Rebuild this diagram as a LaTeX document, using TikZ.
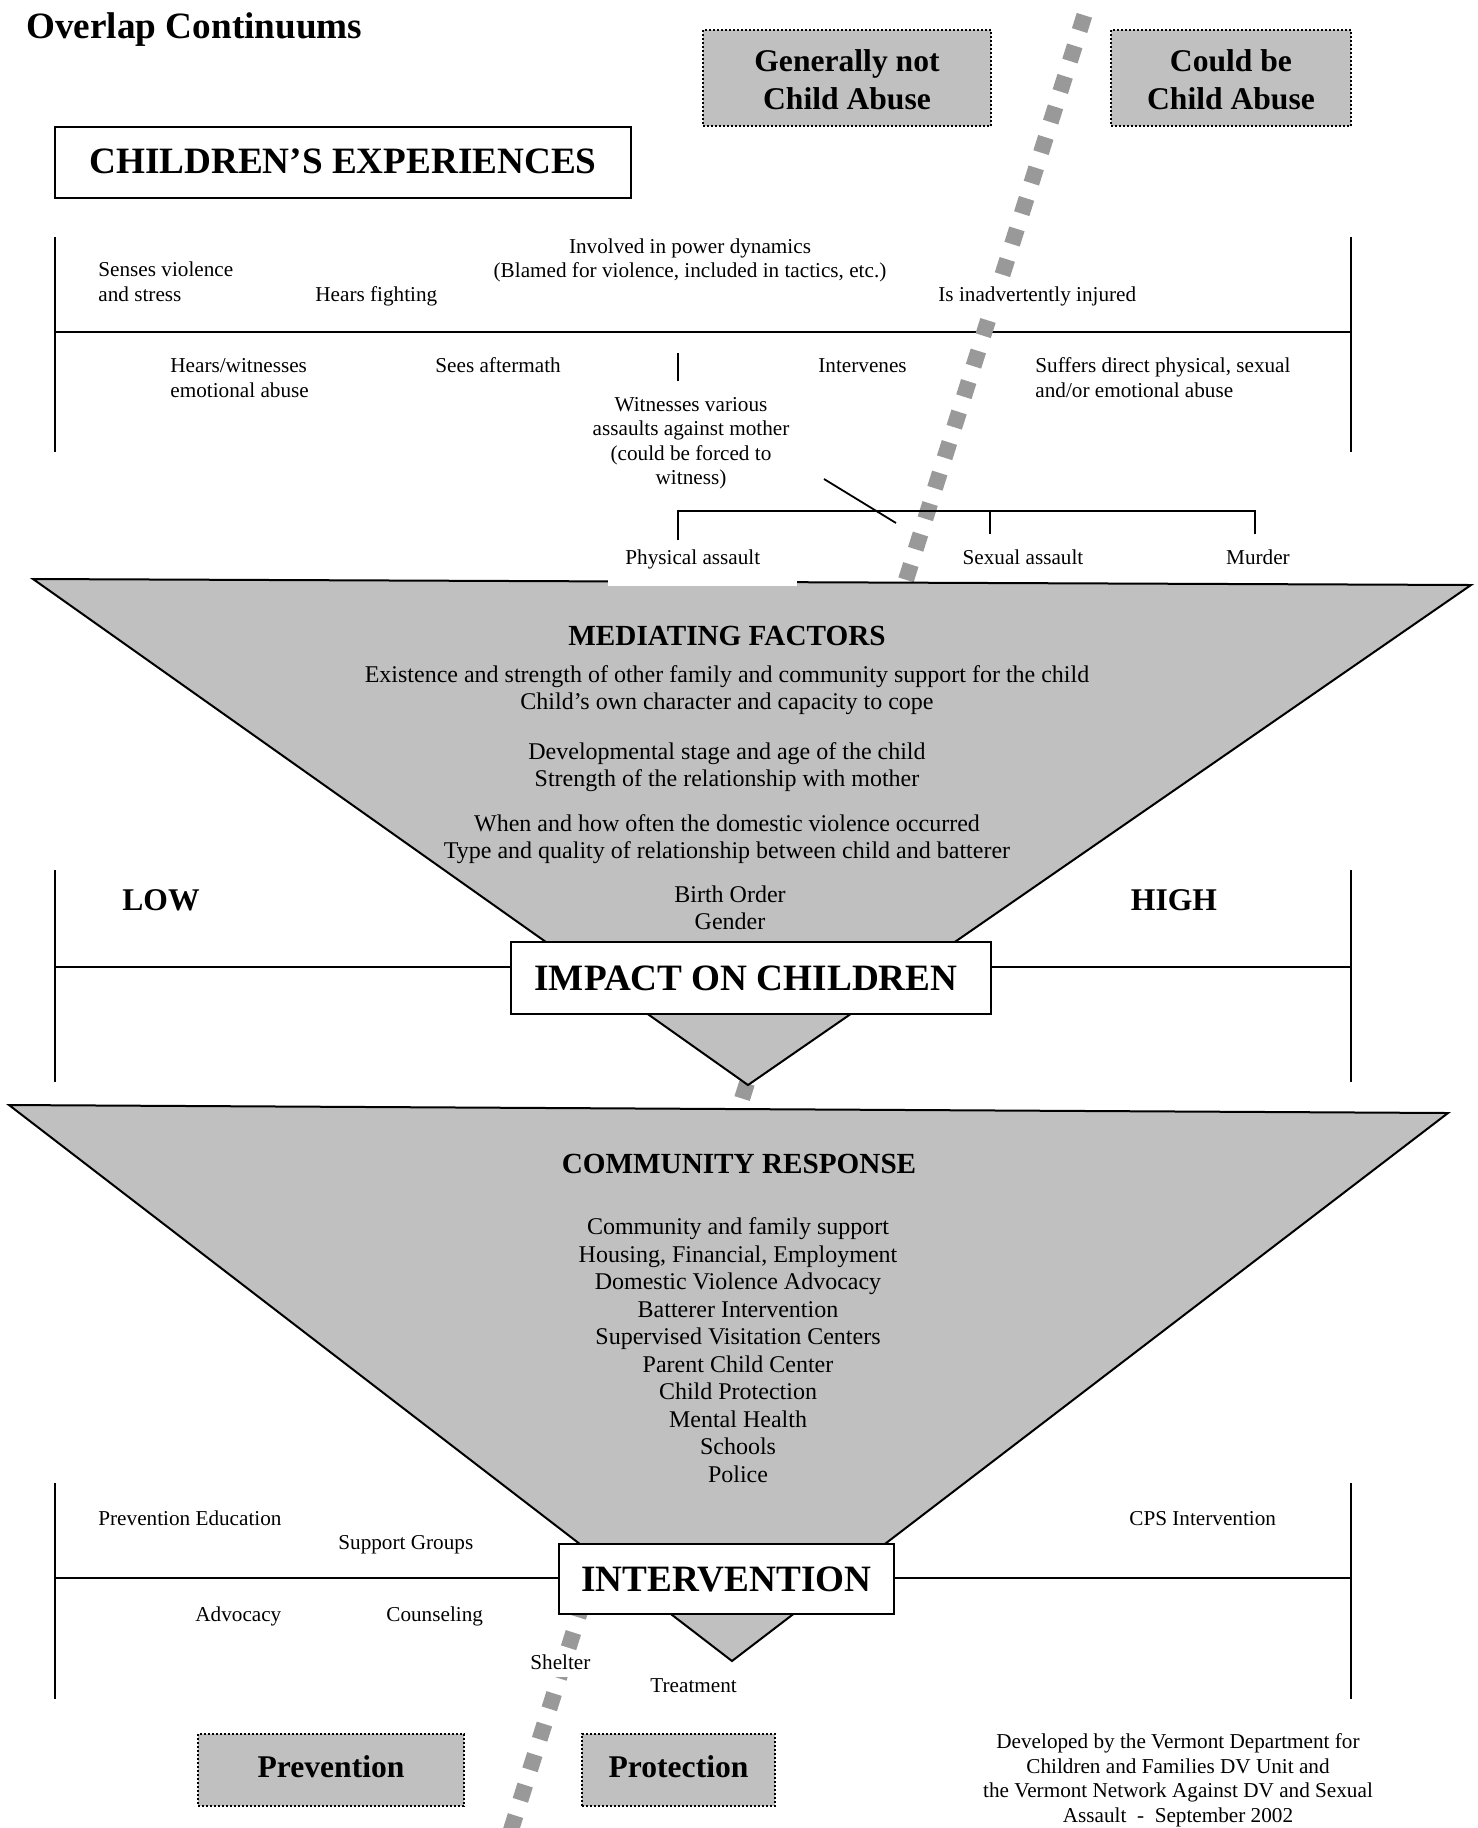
\documentclass[tikz,border=0pt]{standalone}
\usepackage{fontspec}
\setmainfont{Liberation Serif}
\definecolor{boxgray}{HTML}{C0C0C0}
\definecolor{dashgray}{HTML}{999999}
\newcommand{\boxlift}{\rule{0pt}{18.2pt}}
\begin{document}
\begin{tikzpicture}[x=0.5pt,y=-0.5pt,
  txt/.style={inner sep=0pt, execute at begin node=\strut, execute at end node=\strut},
  small/.style={txt, font=\fontsize{10.6}{12.6}\selectfont, yshift=-1.2pt},
  med/.style={txt, font=\fontsize{12}{13.5}\selectfont, yshift=-2.3pt},
  hdr/.style={txt, font=\fontsize{14.6}{17}\selectfont\bfseries, yshift=-2.3pt},
  lbl/.style={txt, font=\fontsize{15.8}{18.7}\selectfont\bfseries},
  big/.style={txt, font=\fontsize{18.6}{22}\selectfont\bfseries},
  multi/.style={yshift=-1.1pt},
  raise/.style={execute at begin node={\rule{0pt}{#1}}},
  cline/.style={line width=1.1pt},
  thinline/.style={line width=0.9pt},
  dotbox/.style={draw, fill=boxgray, line width=1pt, dash pattern=on 1pt off 1pt},
  solidbox/.style={draw, fill=white, line width=1.1pt},
  funnel/.style={draw, fill=boxgray, line width=1pt, line join=miter},
  divider/.style={draw=dashgray, line width=8pt, dash pattern=on 8pt off 8pt}
]
\fill[white] (0,0) rectangle (1478,1828);
\useasboundingbox (0,0) rectangle (1478,1828);

% ---------- top continuum lines ----------
\coordinate (tl1) at (55,237);  \coordinate (tl2) at (55,452);
\coordinate (tr1) at (1351,237); \coordinate (tr2) at (1351,452);
\coordinate (tm1) at (55,332);  \coordinate (tm2) at (1351,332);
\draw[cline] (tl1) -- (tl2);
\draw[cline] (tr1) -- (tr2);
\draw[cline] (tm1) -- (tm2);
\coordinate (tick1) at (678,353); \coordinate (tick2) at (678,381);
\draw[thinline] (tick1) -- (tick2);
\coordinate (diag1) at (824,479); \coordinate (diag2) at (896,523);
\draw[thinline] (diag1) -- (diag2);
\coordinate (br0) at (678,540); \coordinate (br1) at (678,511);
\coordinate (br2) at (1255,511); \coordinate (br3) at (1255,534);
\coordinate (br4) at (990,511); \coordinate (br5) at (990,534);

% ---------- dividing dashed line ----------
\coordinate (d1) at (1084.4,15.3);
\coordinate (d2) at (507.8,1840);
\draw[divider] (d1) -- (d2);

% ---------- title and header boxes ----------
\node[big, anchor=west, yshift=-1.75pt] (title) at (26,26) {Overlap Continuums};
\node[dotbox, lbl, inner sep=0pt, minimum width=144pt, minimum height=48pt, align=center] (notabuse) at (847,78) {\boxlift Generally not\\Child Abuse};
\node[dotbox, lbl, inner sep=0pt, minimum width=120pt, minimum height=48pt, align=center] (couldbe) at (1231,78) {\boxlift Could be\\Child Abuse};
\node[solidbox, big, raise=17.7pt, inner sep=0pt, minimum width=288pt, minimum height=35.5pt] (exp) at (343,162.5) {CHILDREN’S EXPERIENCES};

% ---------- top texts ----------
\node[small, multi, anchor=west, align=left] (senses) at (98,281) {Senses violence\\and stress};
\node[small, anchor=west] (hears) at (315,294) {Hears fighting};
\node[small, multi, align=center, font=\fontsize{10.6}{12}\selectfont] (power) at (690,257) {Involved in power dynamics\\(Blamed for violence, included in tactics, etc.)};
\node[small, anchor=west, fill=white] (injured) at (938,294) {Is inadvertently injured};
\node[small, multi, anchor=west, align=left] (emo) at (170,377) {Hears/witnesses\\emotional abuse};
\node[small, anchor=west] (after) at (435,365) {Sees aftermath};
\node[small, anchor=west] (interv) at (818,365) {Intervenes};
\node[small, multi, anchor=west, align=left] (suffers) at (1035,377) {Suffers direct physical, sexual\\and/or emotional abuse};
\node[small, multi, align=center, font=\fontsize{10.6}{12.25}\selectfont] (witness) at (691,440) {Witnesses various\\assaults against mother\\(could be forced to\\witness)};
\node[small] (sexual) at (1023,557) {Sexual assault};
\node[small] (murder) at (1258,557) {Murder};

% ---------- mediating factors funnel ----------
\coordinate (m1) at (33,579); \coordinate (m2) at (1471,585); \coordinate (m3) at (748,1085);
\draw[funnel] (m1) -- (m2) -- (m3) -- cycle;
\node[small, anchor=west, fill=white, inner xsep=8.5pt, inner ysep=7pt, execute at end node={\hspace*{10pt}}] (phys) at (608,557) {Physical assault};
\draw[thinline] (br0) -- (br1) -- (br2) -- (br3);
\draw[thinline] (br4) -- (br5);

\node[hdr] (medtitle) at (727,634) {MEDIATING FACTORS};
\node[med, align=center] (med1) at (727,687) {Existence and strength of other family and community support for the child\\Child’s own character and capacity to cope};
\node[med, align=center] (med2) at (727,764) {Developmental stage and age of the child\\Strength of the relationship with mother};
\node[med, align=center] (med3) at (727,836) {When and how often the domestic violence occurred\\Type and quality of relationship between child and batterer};
\node[med, align=center] (med4) at (730,907) {Birth Order\\Gender};

% ---------- impact continuum ----------
\node[solidbox, big, raise=18.9pt, execute at begin node={\hspace*{-5pt}}, inner sep=0pt, minimum width=240pt, minimum height=36pt] (impact) at (751,978) {IMPACT ON CHILDREN};
\coordinate (ml1) at (55,870);  \coordinate (ml2) at (55,1082);
\coordinate (mr1) at (1351,870); \coordinate (mr2) at (1351,1082);
\coordinate (mh1) at (55,967);  \coordinate (mh2) at (1351,967);
\draw[cline] (ml1) -- (ml2);
\draw[cline] (mr1) -- (mr2);
\draw[cline] (mh1) -- (mh1 -| impact.west);
\draw[cline] (mh2 -| impact.east) -- (mh2);
\node[lbl, yshift=-1.75pt] (low) at (161,900) {LOW};
\node[lbl, yshift=-1.75pt] (high) at (1174,900) {HIGH};

% ---------- community response funnel ----------
\coordinate (c1) at (9,1105); \coordinate (c2) at (1448,1113); \coordinate (c3) at (732,1661);
\draw[funnel] (c1) -- (c2) -- (c3) -- cycle;
\node[hdr] (comtitle) at (739,1162) {COMMUNITY RESPONSE};
\node[med, align=center, font=\fontsize{12}{13.75}\selectfont] (resp) at (738,1349.5) {Community and family support\\Housing, Financial, Employment\\Domestic Violence Advocacy\\Batterer Intervention\\Supervised Visitation Centers\\Parent Child Center\\Child Protection\\Mental Health\\Schools\\Police};

% ---------- intervention continuum ----------
\node[solidbox, big, raise=18.9pt, inner sep=0pt, minimum width=167.5pt, minimum height=35pt] (intervention) at (726.5,1579) {INTERVENTION};
\coordinate (bl1) at (55,1483);  \coordinate (bl2) at (55,1699);
\coordinate (bq1) at (1351,1483); \coordinate (bq2) at (1351,1699);
\coordinate (bh1) at (55,1578);  \coordinate (bh2) at (1351,1578);
\draw[cline] (bl1) -- (bl2);
\draw[cline] (bq1) -- (bq2);
\draw[cline] (bh1) -- (bh1 -| intervention.west);
\draw[cline] (bh2 -| intervention.east) -- (bh2);

\node[small, anchor=west] (preved) at (98,1518) {Prevention Education};
\node[small, anchor=west] (support) at (338,1542) {Support Groups};
\node[small, anchor=west] (cps) at (1129,1518) {CPS Intervention};
\node[small, anchor=west] (advocacy) at (195,1614) {Advocacy};
\node[small, anchor=west] (counsel) at (386,1614) {Counseling};
\node[small, anchor=west, fill=white] (shelter) at (530,1662) {Shelter};
\node[small, anchor=west] (treat) at (650,1685) {Treatment};

% ---------- bottom boxes and credit ----------
\node[dotbox, lbl, inner sep=0pt, minimum width=133pt, minimum height=36pt] (prevention) at (331,1770) {Prevention};
\node[dotbox, lbl, inner sep=0pt, minimum width=96.5pt, minimum height=36pt] (protection) at (678.5,1770) {Protection};
\node[small, multi, align=center, font=\fontsize{10.6}{12.3}\selectfont] (credit) at (1178,1777) {Developed by the Vermont Department for\\Children and Families DV Unit and\\the Vermont Network Against DV and Sexual\\Assault\ \ -\ \ September 2002};
\end{tikzpicture}
\end{document}
